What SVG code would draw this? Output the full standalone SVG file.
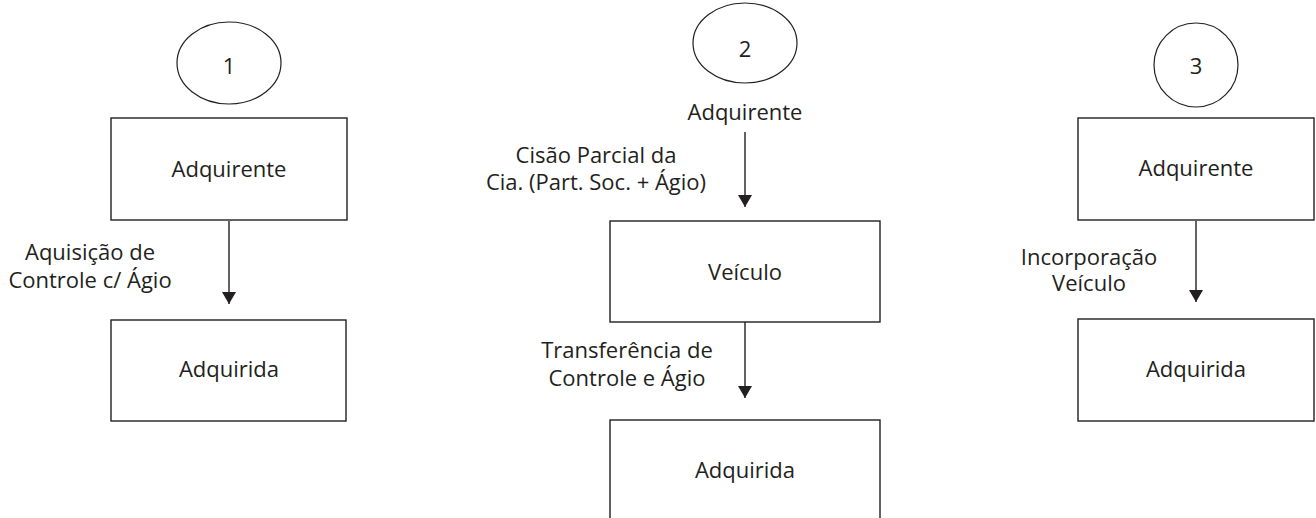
<svg xmlns="http://www.w3.org/2000/svg" width="1316" height="518" viewBox="0 0 1316 518">
<style>
.box{fill:#fff;stroke:#231f20;stroke-width:1.4}
.ell{fill:#fff;stroke:#231f20;stroke-width:1.2}
.t{font-family:"Open Sans","Noto Sans",sans-serif;font-size:22px;fill:#231f20;text-anchor:middle}
.c{stroke:#231f20;stroke-width:1.4;fill:none}
</style>
<defs>
<marker id="ahd" markerUnits="userSpaceOnUse" markerWidth="14" markerHeight="12" refX="7" refY="12" orient="0" viewBox="0 0 14 12">
<path d="M0,0 L14,0 L7,12 Z" fill="#231f20"/>
</marker>
</defs>
<rect width="1316" height="518" fill="#fff"/>
<g id="label1"><ellipse class="ell" cx="229" cy="63" rx="52" ry="41"/><text class="t" x="229" y="74">1</text></g>
<g id="n1a"><rect class="box" x="111" y="118" width="236" height="102"/><text class="t" x="229" y="177">Adquirente</text></g>
<g id="n1b"><rect class="box" x="111" y="320" width="235" height="101"/><text class="t" x="229" y="377">Adquirida</text></g>
<g id="label2"><ellipse class="ell" cx="745" cy="43" rx="52" ry="40"/><text class="t" x="745" y="57">2</text></g>
<g id="n2a"><text class="t" x="745" y="120">Adquirente</text></g>
<g id="n2b"><rect class="box" x="610" y="221" width="270" height="101"/><text class="t" x="745" y="280">Veículo</text></g>
<g id="n2c"><rect class="box" x="610" y="420" width="270" height="120"/><text class="t" x="745" y="478">Adquirida</text></g>
<g id="label3"><ellipse class="ell" cx="1196" cy="65" rx="42" ry="42"/><text class="t" x="1196" y="74">3</text></g>
<g id="n3a"><rect class="box" x="1078" y="118" width="236" height="102"/><text class="t" x="1196" y="176">Adquirente</text></g>
<g id="n3b"><rect class="box" x="1078" y="319" width="236" height="102"/><text class="t" x="1196" y="377">Adquirida</text></g>
<g id="connectors">
<line class="c" x1="229" y1="221" x2="229" y2="304" marker-end="url(#ahd)"/>
<line class="c" x1="745" y1="132" x2="745" y2="207" marker-end="url(#ahd)"/>
<line class="c" x1="745" y1="322" x2="745" y2="398" marker-end="url(#ahd)"/>
<line class="c" x1="1196" y1="221" x2="1196" y2="302" marker-end="url(#ahd)"/>
<text class="t" x="90" y="260">Aquisição de</text>
<text class="t" x="90" y="288">Controle c/ Ágio</text>
<text class="t" x="596" y="163">Cisão Parcial da</text>
<text class="t" x="596" y="190">Cia. (Part. Soc. + Ágio)</text>
<text class="t" x="627" y="358">Transferência de</text>
<text class="t" x="627" y="386">Controle e Ágio</text>
<text class="t" x="1089" y="265">Incorporação</text>
<text class="t" x="1089" y="291">Veículo</text>
</g>
</svg>
